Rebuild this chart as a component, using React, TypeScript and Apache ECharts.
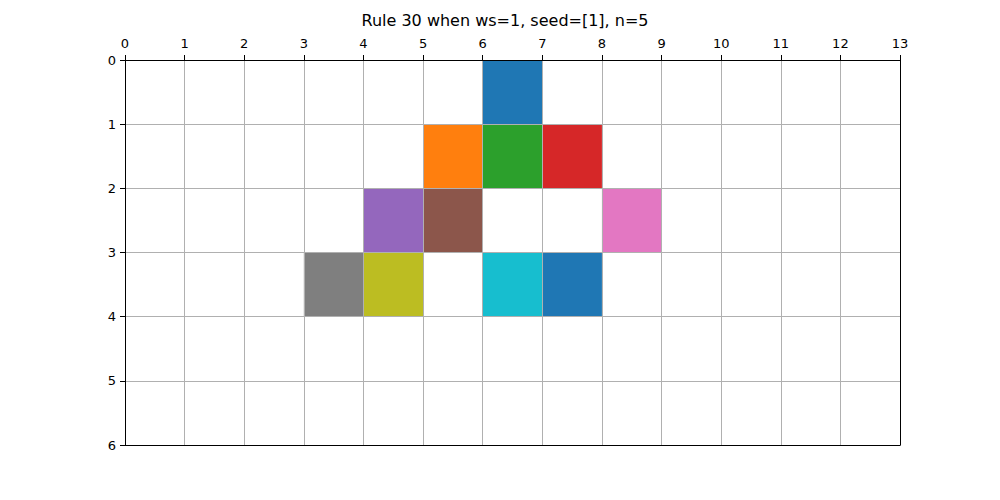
import React, { useEffect, useRef } from "react";
import * as echarts from "echarts";

const title = "Rule 30 when ws=1, seed=[1], n=5";
const cellCols = [6, 5, 6, 7, 4, 5, 8, 3, 4, 6, 7];
const cellRows = [0, 1, 1, 1, 2, 2, 2, 3, 3, 3, 3];
const palette = ["#1f77b4", "#ff7f0e", "#2ca02c", "#d62728", "#9467bd", "#8c564b", "#e377c2", "#7f7f7f", "#bcbd22", "#17becf"];
const xMax = 13;
const yMax = 6;

export default function App() {
  const ref = useRef<HTMLDivElement>(null);
  useEffect(() => {
    const chart = echarts.init(ref.current!, null, { renderer: "svg" });
    const data = cellCols.map((c, i) => [c, cellRows[i], i]);
    const font = "DejaVu Sans";
    chart.setOption({
      animation: false,
      title: {
        text: title,
        left: 500,
        top: 7,
        textAlign: "center",
        textStyle: { fontFamily: font, fontSize: 16, fontWeight: "normal", color: "#000" },
      },
      grid: { left: 125, right: 100, top: 60, bottom: 55, containLabel: false },
      xAxis: [
        {
          type: "value", min: 0, max: xMax, interval: 1, position: "top", z: 5,
          axisLine: { show: true, onZero: false, lineStyle: { color: "#000", width: 1 } },
          axisTick: { show: true, inside: false, length: 5, lineStyle: { color: "#000" } },
          axisLabel: { color: "#000", fontSize: 13, fontFamily: font, margin: 10 },
          splitLine: { show: true, lineStyle: { color: "#b0b0b0", width: 1 } },
        },
        {
          type: "value", min: 0, max: xMax, interval: 1, position: "bottom", z: 5,
          axisLine: { show: true, onZero: false, lineStyle: { color: "#000", width: 1 } },
          axisTick: { show: false }, axisLabel: { show: false }, splitLine: { show: false },
        },
      ],
      yAxis: [
        {
          type: "value", min: 0, max: yMax, interval: 1, inverse: true, position: "left", z: 5,
          axisLine: { show: true, onZero: false, lineStyle: { color: "#000", width: 1 } },
          axisTick: { show: true, inside: false, length: 5, lineStyle: { color: "#000" } },
          axisLabel: { color: "#000", fontSize: 13, fontFamily: font, margin: 9 },
          splitLine: { show: true, lineStyle: { color: "#b0b0b0", width: 1 } },
        },
        {
          type: "value", min: 0, max: yMax, interval: 1, inverse: true, position: "right", z: 5,
          axisLine: { show: true, onZero: false, lineStyle: { color: "#000", width: 1 } },
          axisTick: { show: false }, axisLabel: { show: false }, splitLine: { show: false },
        },
      ],
      series: [
        {
          type: "custom",
          xAxisIndex: 0,
          yAxisIndex: 0,
          z: 2,
          data,
          renderItem: (params: any, api: any) => {
            const x = api.value(0);
            const y = api.value(1);
            const idx = api.value(2);
            const p0 = api.coord([x, y]);
            const p1 = api.coord([x + 1, y + 1]);
            return {
              type: "rect",
              shape: { x: p0[0], y: p0[1], width: p1[0] - p0[0], height: p1[1] - p0[1] },
              style: { fill: palette[idx % palette.length] },
            };
          },
        },
      ],
    });
    return () => chart.dispose();
  }, []);
  return <div ref={ref} style={{ position: "fixed", left: 0, top: 0, width: 1000, height: 500, background: "#fff" }} />;
}
